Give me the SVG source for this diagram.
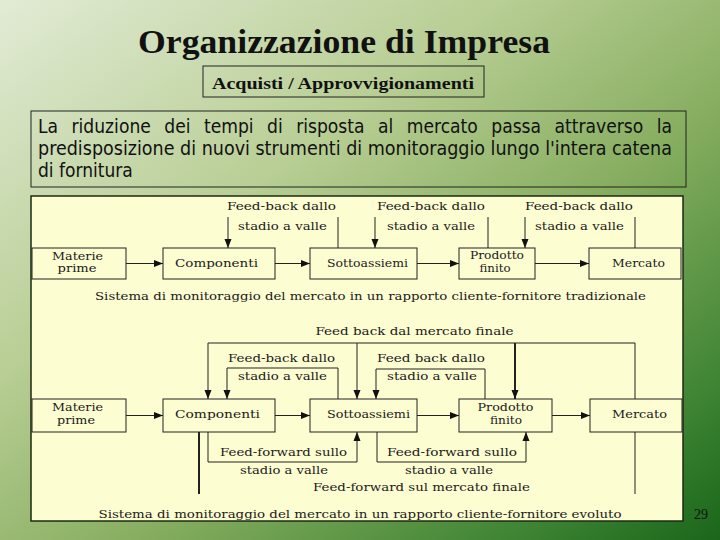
<svg xmlns="http://www.w3.org/2000/svg" width="720" height="540" viewBox="0 0 720 540">
<defs>
<linearGradient id="bg" x1="0" y1="0" x2="1" y2="1">
<stop offset="0" stop-color="#e2ebd5"/>
<stop offset="0.35" stop-color="#b8ce94"/>
<stop offset="0.6" stop-color="#86ad5f"/>
<stop offset="0.85" stop-color="#3f8534"/>
<stop offset="1" stop-color="#1a661a"/>
</linearGradient>
<marker id="ah" markerWidth="9" markerHeight="8" refX="9" refY="4" orient="auto" markerUnits="userSpaceOnUse">
<path d="M0,0.5 L9,4 L0,7.5 z" fill="#111"/>
</marker>
<style>
.bx{fill:#fdfdd2;stroke:#222;stroke-width:1}
.ln{fill:none;stroke:#222;stroke-width:1}
.ar{marker-end:url(#ah)}
.th{stroke-width:2}
.lt{font-family:'DejaVu Serif','Liberation Serif',serif;font-size:11px;fill:#1a1a1a;text-anchor:middle}
.para{font-family:'DejaVu Sans Condensed','DejaVu Sans',sans-serif;font-stretch:condensed;font-size:19px;fill:#111}
.ttl{font-family:'Liberation Serif','Times New Roman',serif;font-weight:bold;fill:#111}
</style>
</defs>
<rect x="0" y="0" width="720" height="540" fill="url(#bg)"/>

<g id="title">
<text class="ttl" x="138" y="53" font-size="33" textLength="412" lengthAdjust="spacingAndGlyphs">Organizzazione di Impresa</text>
</g>
<g id="subtitle">
<rect x="203" y="66" width="281" height="31" fill="none" stroke="#222" stroke-width="1"/>
<text class="ttl" x="212" y="89" font-size="17" textLength="262" lengthAdjust="spacingAndGlyphs">Acquisti / Approvvigionamenti</text>
</g>
<g id="paragraph">
<rect x="31" y="111" width="655" height="76" fill="none" stroke="#222" stroke-width="1"/>
<text class="para" x="38" y="133" word-spacing="8" textLength="634" lengthAdjust="spacingAndGlyphs">La riduzione dei tempi di risposta al mercato passa attraverso la</text>
<text class="para" x="38" y="155" textLength="634" lengthAdjust="spacingAndGlyphs">predisposizione di nuovi strumenti di monitoraggio lungo l'intera catena</text>
<text class="para" x="38" y="177">di fornitura</text>
</g>

<g id="diagram-panel">
<rect x="31" y="196" width="652" height="325" fill="#fdfdd2" stroke="#1b2a12" stroke-width="1.5"/>
</g>

<g id="top-materie"><rect class="bx" x="32" y="248" width="94" height="31"/>
<text class="lt" x="77.5" y="260" textLength="51" lengthAdjust="spacingAndGlyphs">Materie</text>
<text class="lt" x="77" y="272" textLength="39" lengthAdjust="spacingAndGlyphs">prime</text></g>
<g id="top-componenti"><rect class="bx" x="163" y="248" width="112" height="31"/>
<text class="lt" x="216.5" y="267" textLength="83" lengthAdjust="spacingAndGlyphs">Componenti</text></g>
<g id="top-sottoassiemi"><rect class="bx" x="310" y="248" width="107" height="31"/>
<text class="lt" x="367.5" y="267" textLength="81" lengthAdjust="spacingAndGlyphs">Sottoassiemi</text></g>
<g id="top-prodotto"><rect class="bx" x="459" y="248" width="76" height="31"/>
<text class="lt" x="497" y="259" textLength="54" lengthAdjust="spacingAndGlyphs">Prodotto</text>
<text class="lt" x="495" y="272" textLength="31" lengthAdjust="spacingAndGlyphs">finito</text></g>
<g id="top-mercato"><rect class="bx" x="589" y="248" width="92" height="31"/>
<text class="lt" x="638.5" y="267" textLength="53" lengthAdjust="spacingAndGlyphs">Mercato</text></g>

<g id="bot-materie"><rect class="bx" x="32" y="399" width="94" height="33"/>
<text class="lt" x="77.5" y="411" textLength="51" lengthAdjust="spacingAndGlyphs">Materie</text>
<text class="lt" x="76" y="424" textLength="38" lengthAdjust="spacingAndGlyphs">prime</text></g>
<g id="bot-componenti"><rect class="bx" x="163" y="399" width="112" height="33"/>
<text class="lt" x="217.5" y="418" textLength="85" lengthAdjust="spacingAndGlyphs">Componenti</text></g>
<g id="bot-sottoassiemi"><rect class="bx" x="310" y="399" width="107" height="33"/>
<text class="lt" x="368.5" y="418" textLength="83" lengthAdjust="spacingAndGlyphs">Sottoassiemi</text></g>
<g id="bot-prodotto"><rect class="bx" x="459" y="399" width="93" height="33"/>
<text class="lt" x="505.5" y="411" textLength="56" lengthAdjust="spacingAndGlyphs">Prodotto</text>
<text class="lt" x="506" y="424" textLength="32" lengthAdjust="spacingAndGlyphs">finito</text></g>
<g id="bot-mercato"><rect class="bx" x="590" y="399" width="92" height="33"/>
<text class="lt" x="639.5" y="418" textLength="55" lengthAdjust="spacingAndGlyphs">Mercato</text></g>

<g id="connectors">
<line class="ln ar" x1="126" y1="263.5" x2="163" y2="263.5"/>
<line class="ln ar" x1="275" y1="263.5" x2="310" y2="263.5"/>
<line class="ln ar" x1="417" y1="263.5" x2="459" y2="263.5"/>
<line class="ln ar" x1="535" y1="263.5" x2="589" y2="263.5"/>
<line class="ln ar" x1="228" y1="217" x2="228" y2="248"/>
<line class="ln" x1="338" y1="248" x2="338" y2="217"/>
<line class="ln ar" x1="375" y1="217" x2="375" y2="248"/>
<line class="ln" x1="488" y1="248" x2="488" y2="217"/>
<line class="ln ar" x1="525" y1="217" x2="525" y2="248"/>
<line class="ln" x1="635" y1="248" x2="635" y2="217"/>
<line class="ln ar" x1="126" y1="415.5" x2="163" y2="415.5"/>
<line class="ln ar" x1="275" y1="415.5" x2="310" y2="415.5"/>
<line class="ln ar" x1="417" y1="415.5" x2="459" y2="415.5"/>
<line class="ln ar" x1="552" y1="415.5" x2="590" y2="415.5"/>
<polyline class="ln ar" points="635,399 635,343 208,343 208,399"/>
<line class="ln ar" x1="357" y1="343" x2="357" y2="399"/>
<line class="ln ar th" x1="515" y1="343" x2="515" y2="399"/>
<polyline class="ln ar" points="338,399 338,368 227,368 227,399"/>
<polyline class="ln ar" points="485,399 485,369 376,369 376,399"/>
<polyline class="ln ar" points="208,432 208,462 357,462 357,432"/>
<polyline class="ln ar" points="377,432 377,462 526,462 526,432"/>
<line class="ln th" x1="199" y1="432" x2="199" y2="494"/>
<line class="ln" x1="635" y1="432" x2="635" y2="494"/>
</g>

<g id="connector-labels">
<text class="lt" x="281.5" y="210" textLength="109" lengthAdjust="spacingAndGlyphs">Feed-back dallo</text>
<text class="lt" x="282.5" y="230" textLength="89" lengthAdjust="spacingAndGlyphs">stadio a valle</text>
<text class="lt" x="431" y="210" textLength="108" lengthAdjust="spacingAndGlyphs">Feed-back dallo</text>
<text class="lt" x="431" y="230" textLength="88" lengthAdjust="spacingAndGlyphs">stadio a valle</text>
<text class="lt" x="579" y="210" textLength="108" lengthAdjust="spacingAndGlyphs">Feed-back dallo</text>
<text class="lt" x="579.5" y="230" textLength="89" lengthAdjust="spacingAndGlyphs">stadio a valle</text>
<text class="lt" x="370.5" y="300" textLength="551" lengthAdjust="spacingAndGlyphs">Sistema di monitoraggio del mercato in un rapporto cliente-fornitore tradizionale</text>
<text class="lt" x="414.5" y="335" textLength="198" lengthAdjust="spacingAndGlyphs">Feed back dal mercato finale</text>
<text class="lt" x="281.5" y="362" textLength="107" lengthAdjust="spacingAndGlyphs">Feed-back dallo</text>
<text class="lt" x="282.5" y="380" textLength="89" lengthAdjust="spacingAndGlyphs">stadio a valle</text>
<text class="lt" x="431" y="362" textLength="108" lengthAdjust="spacingAndGlyphs">Feed back dallo</text>
<text class="lt" x="432" y="380" textLength="90" lengthAdjust="spacingAndGlyphs">stadio a valle</text>
<text class="lt" x="283.5" y="456" textLength="127" lengthAdjust="spacingAndGlyphs">Feed-forward sullo</text>
<text class="lt" x="284" y="474" textLength="88" lengthAdjust="spacingAndGlyphs">stadio a valle</text>
<text class="lt" x="452" y="456" textLength="130" lengthAdjust="spacingAndGlyphs">Feed-forward sullo</text>
<text class="lt" x="449" y="474" textLength="88" lengthAdjust="spacingAndGlyphs">stadio a valle</text>
<text class="lt" x="421.5" y="491" textLength="217" lengthAdjust="spacingAndGlyphs">Feed-forward sul mercato finale</text>
<text class="lt" x="360" y="518" textLength="523" lengthAdjust="spacingAndGlyphs">Sistema di monitoraggio del mercato in un rapporto cliente-fornitore evoluto</text>
</g>

<g id="page-number">
<text x="701" y="519" font-family="'Liberation Serif',serif" font-size="14" fill="#111" text-anchor="middle">29</text>
</g>
</svg>
